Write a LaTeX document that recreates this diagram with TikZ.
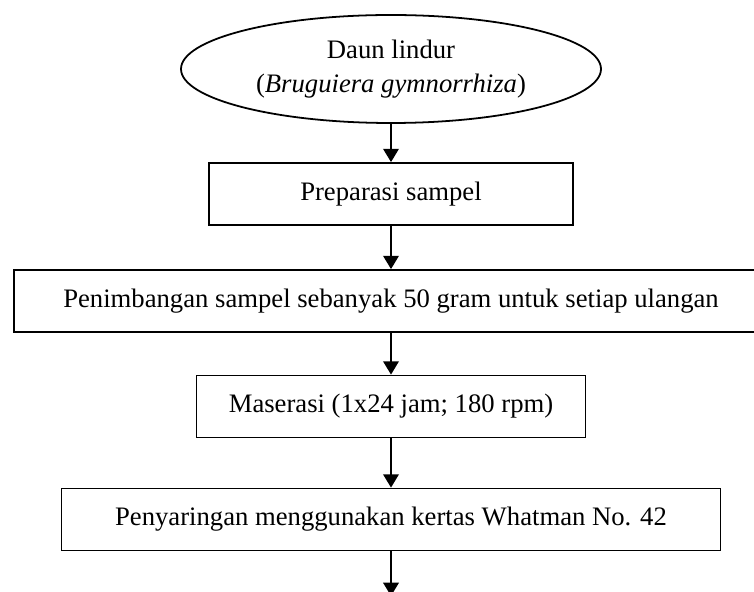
\documentclass[tikz,border=0pt]{standalone}
\usepackage{fontspec}
\setmainfont{Liberation Serif}
\usetikzlibrary{shapes.geometric,arrows.meta}

\begin{document}
\begin{tikzpicture}[
        x=0.45pt,
        y=-0.45pt,
        every node/.style={
            rectangle,
            draw=black,
            fill=white,
            thick,
            minimum height=27.9pt,
            inner sep=2pt,
            align=center,
            font=\fontsize{12}{15}\selectfont
        },
        panah/.style={
            thick,
            -{Triangle[width=7pt,length=6pt]}
        }
    ]
    \useasboundingbox (0,0) rectangle (754,592);

    % Simpul
    \node[ellipse, minimum width=189pt, minimum height=48.6pt] (n1) at (391,69) {Daun lindur\\(\textit{Bruguiera gymnorrhiza})};
    \node[minimum width=163.8pt] (n2) at (391,194) {Preparasi sampel};
    \node[minimum width=339.3pt] (n3) at (391,301) {Penimbangan sampel sebanyak 50 gram untuk setiap ulangan};
    \node[minimum width=175pt] (n4) at (391,406.5) {Maserasi (1x24 jam; 180 rpm)};
    \node[minimum width=296.6pt] (n5) at (391,519.5) {Penyaringan menggunakan kertas Whatman No. 42};
    \coordinate (n6) at (391,596);

    % Panah
    \draw[panah] (n1) -- (n2);
    \draw[panah] (n2) -- (n3);
    \draw[panah] (n3) -- (n4);
    \draw[panah] (n4) -- (n5);
    \draw[panah] (n5) -- (n6);

    \end{tikzpicture}
\end{document}
